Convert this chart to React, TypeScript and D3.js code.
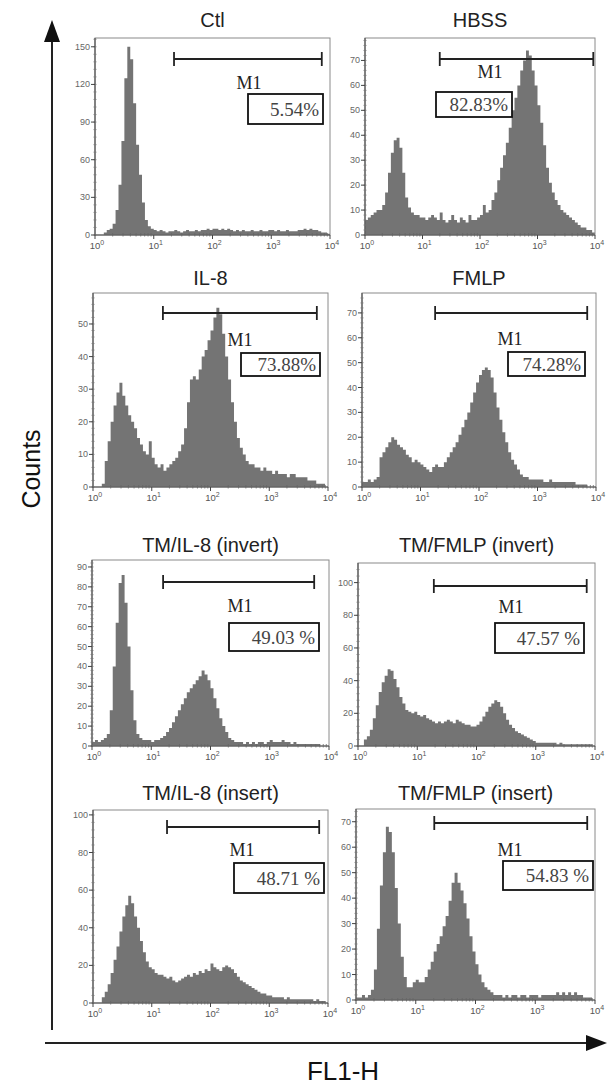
import React from 'react';
import * as d3 from 'd3';

// ---------- DATA ----------
const titles = ['Ctl', 'HBSS', 'IL-8', 'FMLP', 'TM/IL-8 (invert)', 'TM/FMLP (invert)', 'TM/IL-8 (insert)', 'TM/FMLP (insert)'];
const percents = ['5.54%', '82.83%', '73.88%', '74.28%', '49.03 %', '47.57 %', '48.71 %', '54.83 %'];
const gateLabel = 'M1';
// M1 gate limits, log10(FL1-H)
const gateStart = [1.345, 1.3, 1.19, 1.25, 1.2, 1.28, 1.26, 1.31];
const gateEnd = [3.86, 3.97, 3.81, 3.85, 3.75, 3.86, 3.85, 3.87];
const yTickStep = [30, 10, 10, 10, 10, 20, 20, 10];
const yTickMax = [150, 70, 50, 70, 90, 100, 100, 70];
const yDomainMax = [157, 79, 59.5, 78, 93.5, 112, 102.6, 75];
const xDecades = [0, 1, 2, 3, 4];
const binWidth = 0.05; // decades per histogram bin

const ctlCounts = [
  0, 0, 0, 2, 4, 5, 9, 20, 40, 75, 125, 150, 140, 105, 72, 48, 26, 12, 7, 5,
  4, 3, 4, 3, 2, 3, 3, 4, 3, 2, 3, 4, 3, 3, 4, 3, 4, 4, 5, 4,
  5, 5, 4, 5, 4, 5, 4, 3, 4, 3, 4, 3, 3, 4, 3, 3, 4, 3, 3, 4,
  4, 3, 4, 3, 3, 4, 3, 3, 3, 4, 4, 5, 4, 5, 4, 4, 3, 2, 2, 1,
];
const hbssCounts = [
  6, 7, 8, 9, 10, 10, 12, 17, 25, 33, 38, 39, 35, 25, 15, 11, 9, 8, 8, 7,
  7, 6, 7, 8, 7, 6, 9, 6, 5, 6, 8, 6, 5, 7, 6, 5, 8, 6, 6, 7,
  8, 12, 9, 10, 14, 17, 22, 27, 32, 37, 43, 50, 55, 60, 66, 70, 74, 72, 66, 60,
  52, 45, 36, 27, 21, 17, 14, 12, 10, 9, 8, 7, 6, 5, 4, 3, 3, 2, 2, 1,
];
const il8Counts = [
  0, 0, 0, 1, 8, 14, 20, 25, 29, 32, 28, 25, 22, 20, 18, 15, 13, 11, 10, 14,
  9, 7, 6, 7, 5, 6, 7, 8, 9, 11, 13, 18, 26, 33, 34, 33, 36, 40, 42, 45,
  48, 52, 55, 53, 47, 40, 33, 26, 20, 15, 12, 10, 8, 7, 7, 6, 6, 5, 6, 5,
  5, 4, 5, 4, 4, 4, 3, 4, 4, 3, 3, 3, 3, 2, 2, 2, 1, 1, 1, 0,
];
const fmlpCounts = [
  2, 2, 3, 2, 3, 4, 12, 14, 16, 18, 20, 19, 17, 16, 15, 13, 12, 10, 11, 10,
  9, 8, 7, 6, 8, 9, 8, 8, 10, 12, 14, 16, 18, 21, 24, 27, 30, 34, 38, 42,
  45, 47, 48, 47, 44, 38, 32, 27, 22, 18, 14, 11, 9, 7, 5, 4, 4, 3, 3, 3,
  3, 3, 2, 2, 3, 2, 2, 2, 2, 2, 2, 2, 2, 1, 1, 1, 1, 0, 0, 0,
];
const tmIl8InvertCounts = [
  2, 3, 2, 3, 4, 6, 18, 40, 62, 82, 86, 72, 50, 28, 13, 6, 4, 3, 3, 3,
  2, 3, 3, 4, 5, 7, 9, 12, 15, 18, 21, 24, 27, 29, 31, 33, 35, 38, 36, 33,
  29, 24, 19, 14, 10, 7, 4, 3, 2, 2, 2, 1, 2, 1, 2, 1, 2, 2, 1, 2,
  3, 2, 2, 2, 3, 2, 2, 1, 2, 1, 1, 1, 1, 1, 1, 1, 1, 0, 0, 0,
];
const tmFmlpInvertCounts = [
  0, 0, 4, 6, 10, 17, 25, 33, 39, 43, 47, 46, 41, 36, 30, 26, 22, 21, 20, 21,
  19, 18, 19, 17, 16, 15, 14, 15, 14, 15, 16, 15, 14, 16, 15, 14, 13, 13, 12, 12,
  13, 15, 18, 21, 24, 26, 28, 27, 24, 20, 16, 13, 11, 9, 8, 7, 6, 5, 4, 3,
  2, 2, 2, 2, 2, 2, 2, 1, 2, 1, 1, 1, 1, 1, 1, 1, 1, 1, 1, 0,
];
const tmIl8InsertCounts = [
  0, 0, 0, 3, 6, 10, 16, 23, 30, 38, 46, 52, 57, 53, 46, 40, 33, 27, 22, 19,
  18, 16, 15, 15, 14, 13, 14, 12, 11, 12, 13, 14, 15, 14, 16, 15, 17, 16, 18, 17,
  21, 19, 18, 17, 19, 20, 19, 18, 16, 14, 12, 11, 10, 9, 8, 7, 6, 5, 5, 4,
  4, 3, 3, 3, 3, 2, 3, 2, 2, 2, 2, 2, 2, 2, 2, 1, 2, 1, 1, 0,
];
const tmFmlpInsertCounts = [
  1, 1, 2, 1, 2, 4, 12, 28, 45, 58, 68, 66, 58, 44, 30, 17, 9, 5, 5, 7,
  8, 7, 7, 9, 12, 15, 19, 22, 25, 29, 33, 39, 46, 50, 46, 43, 38, 32, 25, 19,
  14, 10, 7, 5, 4, 3, 2, 2, 2, 1, 2, 1, 2, 2, 1, 2, 2, 1, 2, 2,
  2, 1, 2, 2, 2, 2, 2, 3, 2, 3, 2, 3, 2, 3, 2, 2, 1, 1, 1, 0,
];
const series = [ctlCounts, hbssCounts, il8Counts, fmlpCounts, tmIl8InvertCounts, tmFmlpInvertCounts, tmIl8InsertCounts, tmFmlpInsertCounts];

// ---------- LAYOUT ----------
const plotBoxes = [
  { x0: 95, x1: 330, y0: 38, y1: 235 },
  { x0: 365, x1: 595, y0: 38, y1: 235 },
  { x0: 93, x1: 328, y0: 293, y1: 487 },
  { x0: 362, x1: 596, y0: 293, y1: 487 },
  { x0: 92, x1: 329, y0: 560, y1: 746 },
  { x0: 358, x1: 595, y0: 563, y1: 746 },
  { x0: 93, x1: 328, y0: 810, y1: 1003 },
  { x0: 356, x1: 595, y0: 809, y1: 1000 },
];
const titleBaselines = [27, 27, 285, 285, 552, 552, 800, 800];
const gateY = [59, 59, 313, 313, 582, 586, 827, 823];
const m1Pos = [[249, 89], [490, 78], [240, 346], [510, 345], [240, 612], [511, 613], [242, 856], [510, 856]];
const pctBoxes = [
  [248, 94, 75, 30], [436, 92, 76, 25], [241, 353, 79, 23], [508, 352, 77, 24],
  [229, 623, 90, 28], [495, 623, 89, 30], [234, 863, 90, 30], [503, 861, 90, 29],
];

const SANS = 'Liberation Sans, Arial, Helvetica, sans-serif';
const SERIF = 'Liberation Serif, Times New Roman, serif';
const FILL = '#747474';

function Panel({ i }: { i: number }) {
  const b = plotBoxes[i];
  const x = d3.scaleLinear().domain([0, 4]).range([b.x0, b.x1]);
  const y = d3.scaleLinear().domain([0, yDomainMax[i]]).range([b.y1, b.y0]);
  const counts = series[i];
  const pts: [number, number][] = counts.map((c, k) => [k * binWidth, c]);
  pts.push([counts.length * binWidth, counts[counts.length - 1]]);
  const area = d3
    .area<[number, number]>()
    .x((d) => x(d[0]))
    .y0(b.y1)
    .y1((d) => y(d[1]))
    .curve(d3.curveStepAfter);
  const yMajor = d3.range(0, yTickMax[i] + 0.001, yTickStep[i]);
  const yMinor = d3.range(0, yDomainMax[i], yTickStep[i] / 5);
  const xMinor: number[] = [];
  for (let d = 0; d < 4; d++) for (let k = 2; k <= 9; k++) xMinor.push(d + Math.log10(k));
  const clipId = `clip${i}`;
  const [bx, by, bw, bh] = pctBoxes[i];
  const gx0 = x(gateStart[i]);
  const gx1 = x(gateEnd[i]);
  const gy = gateY[i];
  return (
    <g>
      <defs>
        <clipPath id={clipId}>
          <rect x={b.x0} y={b.y0} width={b.x1 - b.x0} height={b.y1 - b.y0} />
        </clipPath>
      </defs>
      <text x={(b.x0 + b.x1) / 2} y={titleBaselines[i]} textAnchor="middle" fontFamily={SANS} fontSize={20} fill="#222">
        {titles[i]}
      </text>
      <path d={area(pts) || ''} fill={FILL} stroke="none" clipPath={`url(#${clipId})`} />
      <rect x={b.x0} y={b.y0} width={b.x1 - b.x0} height={b.y1 - b.y0} fill="none" stroke="#8a8a8a" strokeWidth={1} />
      <line x1={b.x0} x2={b.x0} y1={b.y0} y2={b.y1} stroke="#555" strokeWidth={1.2} />
      <line x1={b.x0} x2={b.x1} y1={b.y1} y2={b.y1} stroke="#555" strokeWidth={1.2} />
      {yMinor.map((v) => (
        <line key={'ym' + v} x1={b.x0 - 1.5} x2={b.x0 + 1.5} y1={y(v)} y2={y(v)} stroke="#777" strokeWidth={0.8} />
      ))}
      {yMajor.map((v) => (
        <g key={'yM' + v}>
          <line x1={b.x0 - 4} x2={b.x0} y1={y(v)} y2={y(v)} stroke="#444" strokeWidth={1} />
          <text x={b.x0 - 5} y={y(v) + 3} textAnchor="end" fontFamily={SANS} fontSize={9} fill="#666">
            {v}
          </text>
        </g>
      ))}
      {xMinor.map((v) => (
        <line key={'xm' + v} x1={x(v)} x2={x(v)} y1={b.y1 - 2} y2={b.y1 + 1.5} stroke="#666" strokeWidth={0.8} />
      ))}
      {xDecades.map((d) => (
        <g key={'xM' + d}>
          <line x1={x(d)} x2={x(d)} y1={b.y1} y2={b.y1 + 4} stroke="#444" strokeWidth={1} />
          <text x={x(d) + 2} y={b.y1 + 14} textAnchor="middle" fontFamily={SANS} fontSize={9.5} fill="#555">
            10<tspan dy={-4} fontSize={7}>{d}</tspan>
          </text>
        </g>
      ))}
      <g stroke="#222" strokeWidth={1.8}>
        <line x1={gx0} x2={gx1} y1={gy} y2={gy} />
        <line x1={gx0} x2={gx0} y1={gy - 7} y2={gy + 7} />
        <line x1={gx1} x2={gx1} y1={gy - 7} y2={gy + 7} />
      </g>
      <text x={m1Pos[i][0]} y={m1Pos[i][1]} textAnchor="middle" fontFamily={SERIF} fontSize={18} fill="#222">
        {gateLabel}
      </text>
      <rect x={bx} y={by} width={bw} height={bh} fill="#fff" stroke="#111" strokeWidth={1.8} />
      <text x={bx + bw - 4} y={by + bh / 2 + 6.5} textAnchor="end" fontFamily={SERIF} fontSize={19} fill="#444">
        {percents[i]}
      </text>
    </g>
  );
}

export default function App() {
  return (
    <svg width={611} height={1087} style={{ position: 'absolute', left: 0, top: 0, background: '#fff' }}>
      <rect x={0} y={0} width={611} height={1087} fill="#fff" />
      {titles.map((_, i) => (
        <Panel key={i} i={i} />
      ))}
      {/* Counts axis arrow */}
      <line x1={52} x2={52} y1={1030} y2={38} stroke="#222" strokeWidth={2} />
      <path d="M52,20 L44,42 L60,42 Z" fill="#111" />
      <text transform="translate(40,469) rotate(-90)" textAnchor="middle" fontFamily={SANS} fontSize={25} fill="#111">
        Counts
      </text>
      {/* FL1-H axis arrow */}
      <line x1={45} x2={590} y1={1043} y2={1043} stroke="#222" strokeWidth={2} />
      <path d="M607,1043 L586,1035 L586,1051 Z" fill="#111" />
      <text x={343} y={1080} textAnchor="middle" fontFamily={SANS} fontSize={26} fill="#111">
        FL1-H
      </text>
    </svg>
  );
}
